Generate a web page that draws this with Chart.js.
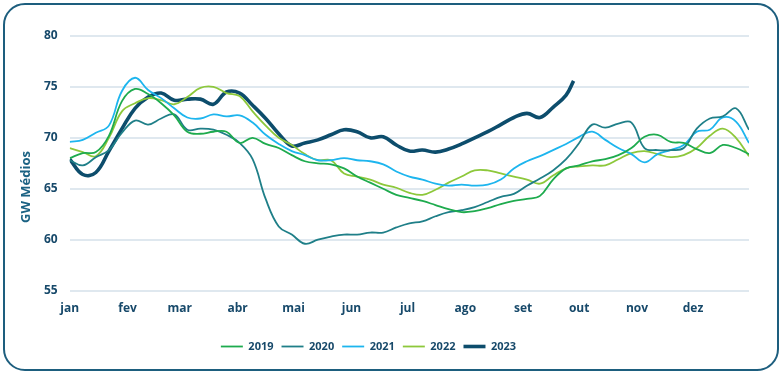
<!DOCTYPE html>
<html>
<head>
<meta charset="utf-8">
<script src="https://cdn.jsdelivr.net/npm/chart.js@4"></script>
<style>
  html, body { margin: 0; padding: 0; background: #fff; }
  #frame {
    position: absolute; left: 3px; top: 3px;
    width: 776px; height: 368px;
    box-sizing: border-box;
    border: 2px solid #1d5e7e;
    border-radius: 22px;
    background: #fff;
  }
  #chart { position: absolute; left: 2px; top: 2px; }
</style>
</head>
<body>
<div id="frame"><canvas id="chart" width="768" height="360"></canvas></div>
<script>
const months = ["jan", "fev", "mar", "abr", "mai", "jun", "jul", "ago", "set", "out", "nov", "dez"];
const monthStartDays = [0, 31, 59, 90, 120, 151, 181, 212, 243, 273, 304, 334];

// weekly samples, day of year
const weekDays = [0, 7, 14, 21, 28, 35, 42, 49, 56, 63, 70, 77, 84, 91, 98, 105, 112, 119, 126, 133,
  140, 147, 154, 161, 168, 175, 182, 189, 196, 203, 210, 217, 224, 231, 238, 245, 252, 259, 266, 273,
  280, 287, 294, 301, 308, 315, 322, 329, 336, 343, 350, 357, 364];
const days2023 = weekDays.slice(0, 39).concat([270]);

const s2019 = [68.0, 68.5, 68.6, 70.2, 73.6, 74.8, 74.3, 73.4, 72.2, 70.6, 70.4, 70.6, 70.6, 69.5,
  70.0, 69.4, 69.0, 68.3, 67.7, 67.5, 67.4, 67.0, 66.2, 65.6, 65.0, 64.4, 64.1, 63.8, 63.4, 63.0,
  62.7, 62.8, 63.1, 63.5, 63.8, 64.0, 64.3, 65.9, 67.0, 67.3, 67.7, 67.9, 68.3, 69.0, 70.1, 70.3,
  69.6, 69.5, 68.9, 68.5, 69.3, 69.0, 68.4];
const s2020 = [67.8, 67.3, 68.1, 68.8, 70.5, 71.7, 71.3, 71.9, 72.3, 70.8, 70.9, 70.8, 70.3, 69.5,
  67.9, 64.0, 61.3, 60.5, 59.6, 60.0, 60.3, 60.5, 60.5, 60.7, 60.7, 61.2, 61.6, 61.8, 62.3, 62.7,
  62.9, 63.2, 63.7, 64.2, 64.5, 65.3, 66.0, 66.8, 67.9, 69.5, 71.3, 71.0, 71.4, 71.5, 69.0, 68.8,
  68.8, 69.0, 70.9, 71.9, 72.1, 72.9, 70.8];
const s2021 = [69.6, 69.8, 70.5, 71.2, 74.6, 75.9, 74.7, 73.9, 72.9, 72.0, 71.9, 72.3, 72.1, 72.2,
  71.5, 70.3, 69.4, 68.7, 68.3, 67.8, 67.8, 68.0, 67.8, 67.7, 67.4, 66.7, 66.2, 65.9, 65.5, 65.3,
  65.4, 65.3, 65.4, 65.9, 67.0, 67.7, 68.2, 68.8, 69.4, 70.1, 70.6, 69.8, 69.0, 68.4, 67.6, 68.4,
  68.8, 69.3, 70.6, 70.8, 72.0, 71.6, 69.5];
const s2022 = [69.0, 68.6, 68.2, 70.0, 72.6, 73.4, 73.9, 73.7, 73.3, 74.0, 74.9, 75.0, 74.4, 74.1,
  72.6, 71.2, 70.0, 69.3, 68.4, 67.8, 67.8, 66.5, 66.2, 65.9, 65.4, 65.1, 64.6, 64.4, 64.9, 65.6,
  66.2, 66.8, 66.8, 66.5, 66.2, 65.9, 65.5, 66.3, 67.0, 67.2, 67.3, 67.3, 67.9, 68.5, 68.7, 68.4,
  68.1, 68.3, 69.0, 70.2, 70.9, 70.0, 68.2];
const s2023 = [67.9, 66.4, 66.6, 68.7, 70.9, 72.9, 74.0, 74.4, 73.7, 73.8, 73.8, 73.3, 74.5, 74.4,
  73.2, 71.9, 70.4, 69.2, 69.5, 69.8, 70.3, 70.8, 70.6, 70.0, 70.1, 69.3, 68.7, 68.8, 68.6, 68.9,
  69.4, 70.0, 70.6, 71.3, 72.0, 72.4, 72.0, 73.0, 74.2, 75.6];

const series = [
  { label: "2019", days: weekDays, values: s2019, color: "#1eab4e", width: 1.8 },
  { label: "2020", days: weekDays, values: s2020, color: "#1f7f88", width: 1.8 },
  { label: "2021", days: weekDays, values: s2021, color: "#1db5ee", width: 1.8 },
  { label: "2022", days: weekDays, values: s2022, color: "#8dc83b", width: 1.8 },
  { label: "2023", days: days2023, values: s2023, color: "#0d4d6c", width: 3.6 },
];

const textColor = "#17496a";
const font = { family: "Open Sans", weight: "bold", size: 12 };

// y title sits lower than the plot centre in the original, so draw it by hand
const yTitle = {
  id: "yTitle",
  afterDraw(chart) {
    const ctx = chart.ctx;
    ctx.save();
    ctx.translate(19, 180);
    ctx.rotate(-Math.PI / 2);
    ctx.font = "bold 13px 'Open Sans'";
    ctx.fillStyle = "#1b6283";
    ctx.textAlign = "center";
    ctx.textBaseline = "middle";
    ctx.fillText("GW Médios", 0, 0);
    ctx.restore();
  },
};

const legendShift = {
  id: "legendShift",
  afterLayout(chart) {
    chart.legend.left -= 22;
    chart.legend.right -= 22;
  },
};

new Chart(document.getElementById("chart"), {
  type: "line",
  data: {
    datasets: series.map(s => ({
      label: s.label,
      data: s.days.map((d, i) => ({ x: d, y: s.values[i] })),
      borderColor: s.color,
      backgroundColor: s.color,
      borderWidth: s.width,
      pointRadius: 0,
      tension: 0.4,
      fill: false,
    })),
  },
  plugins: [yTitle, legendShift],
  options: {
    responsive: false,
    animation: false,
    layout: { padding: { left: 25, right: 26, top: 29, bottom: 5 } },
    plugins: {
      legend: {
        position: "bottom",
        labels: {
          usePointStyle: true,
          pointStyle: "line",
          pointStyleWidth: 22,
          padding: 8,
          color: textColor,
          font: { family: "Open Sans", weight: "bold", size: 11 },
        },
      },
      tooltip: { enabled: false },
    },
    scales: {
      x: {
        type: "linear",
        min: 0,
        max: 364,
        afterBuildTicks: axis => { axis.ticks = monthStartDays.map(v => ({ value: v })); },
        afterFit: axis => { axis.height += 14; },
        ticks: {
          autoSkip: false,
          maxRotation: 0,
          padding: 3,
          color: textColor,
          font,
          callback: v => months[monthStartDays.indexOf(v)],
        },
        grid: { display: false },
        border: { display: false },
      },
      y: {
        min: 55,
        max: 80,
        ticks: { stepSize: 5, padding: 12, color: textColor, font },
        grid: { color: "#dfe8ef", lineWidth: 2, drawTicks: false },
        border: { display: false },
      },
    },
  },
});
</script>
</body>
</html>
